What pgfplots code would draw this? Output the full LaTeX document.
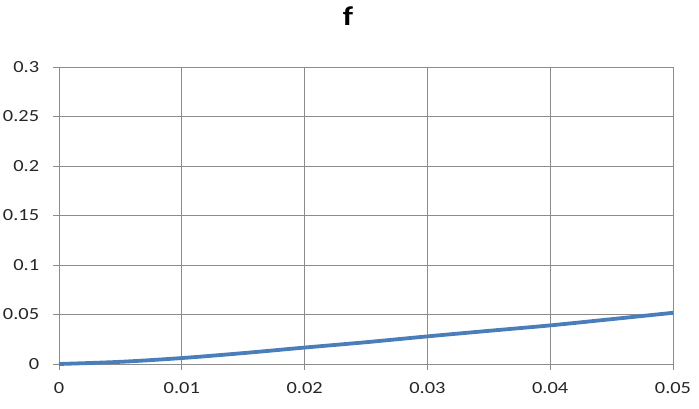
\documentclass[border=0pt]{standalone}
\usepackage{pgfplots}
\pgfplotsset{compat=1.18}
\usepackage{fontspec}
\setmainfont{Carlito}
\definecolor{xlblue}{HTML}{4A7EBB}
\definecolor{gridgray}{HTML}{8C8C8C}
\begin{document}
\begin{tikzpicture}
\begin{axis}[
  scale only axis, width=614pt, height=297pt,
  xmin=0, xmax=0.05, ymin=0, ymax=0.3,
  scaled x ticks=false, scaled y ticks=false,
  xtick={0,0.01,0.02,0.03,0.04,0.05},
  ytick={0,0.05,0.1,0.15,0.2,0.25,0.3},
  xticklabels={0,0.01,0.02,0.03,0.04,0.05},
  yticklabels={0,0.05,0.1,0.15,0.2,0.25,0.3},
  grid=major,
  major grid style={gridgray, line width=0.9pt},
  axis line style={gridgray, line width=0.9pt},
  axis lines*=left,
  tick style={gridgray, line width=0.9pt},
  tick align=outside,
  major tick length=6pt,
  tick label style={font=\fontsize{17}{19}\selectfont, text=black!85, xscale=1.2},
  yticklabel style={xshift=-8pt},
  xticklabel style={yshift=-9pt},
  title={\bfseries f},
  title style={font=\fontsize{27}{30}\selectfont, xscale=1.2, at={(0.5,1)}, anchor=base, yshift=35pt, xshift=-15pt},
  clip=false,
]
\addplot[xlblue, line width=3.8pt, smooth] coordinates {
(0,0) (0.005,0.0022) (0.01,0.006) (0.015,0.011) (0.02,0.0166) (0.025,0.022)
(0.03,0.0279) (0.035,0.0335) (0.04,0.039) (0.045,0.0453) (0.05,0.0517)};
\end{axis}
\pgfresetboundingbox
\path (current axis.south west) ++(-59pt,-45pt) rectangle ++(699pt,409pt);
\end{tikzpicture}
\end{document}
